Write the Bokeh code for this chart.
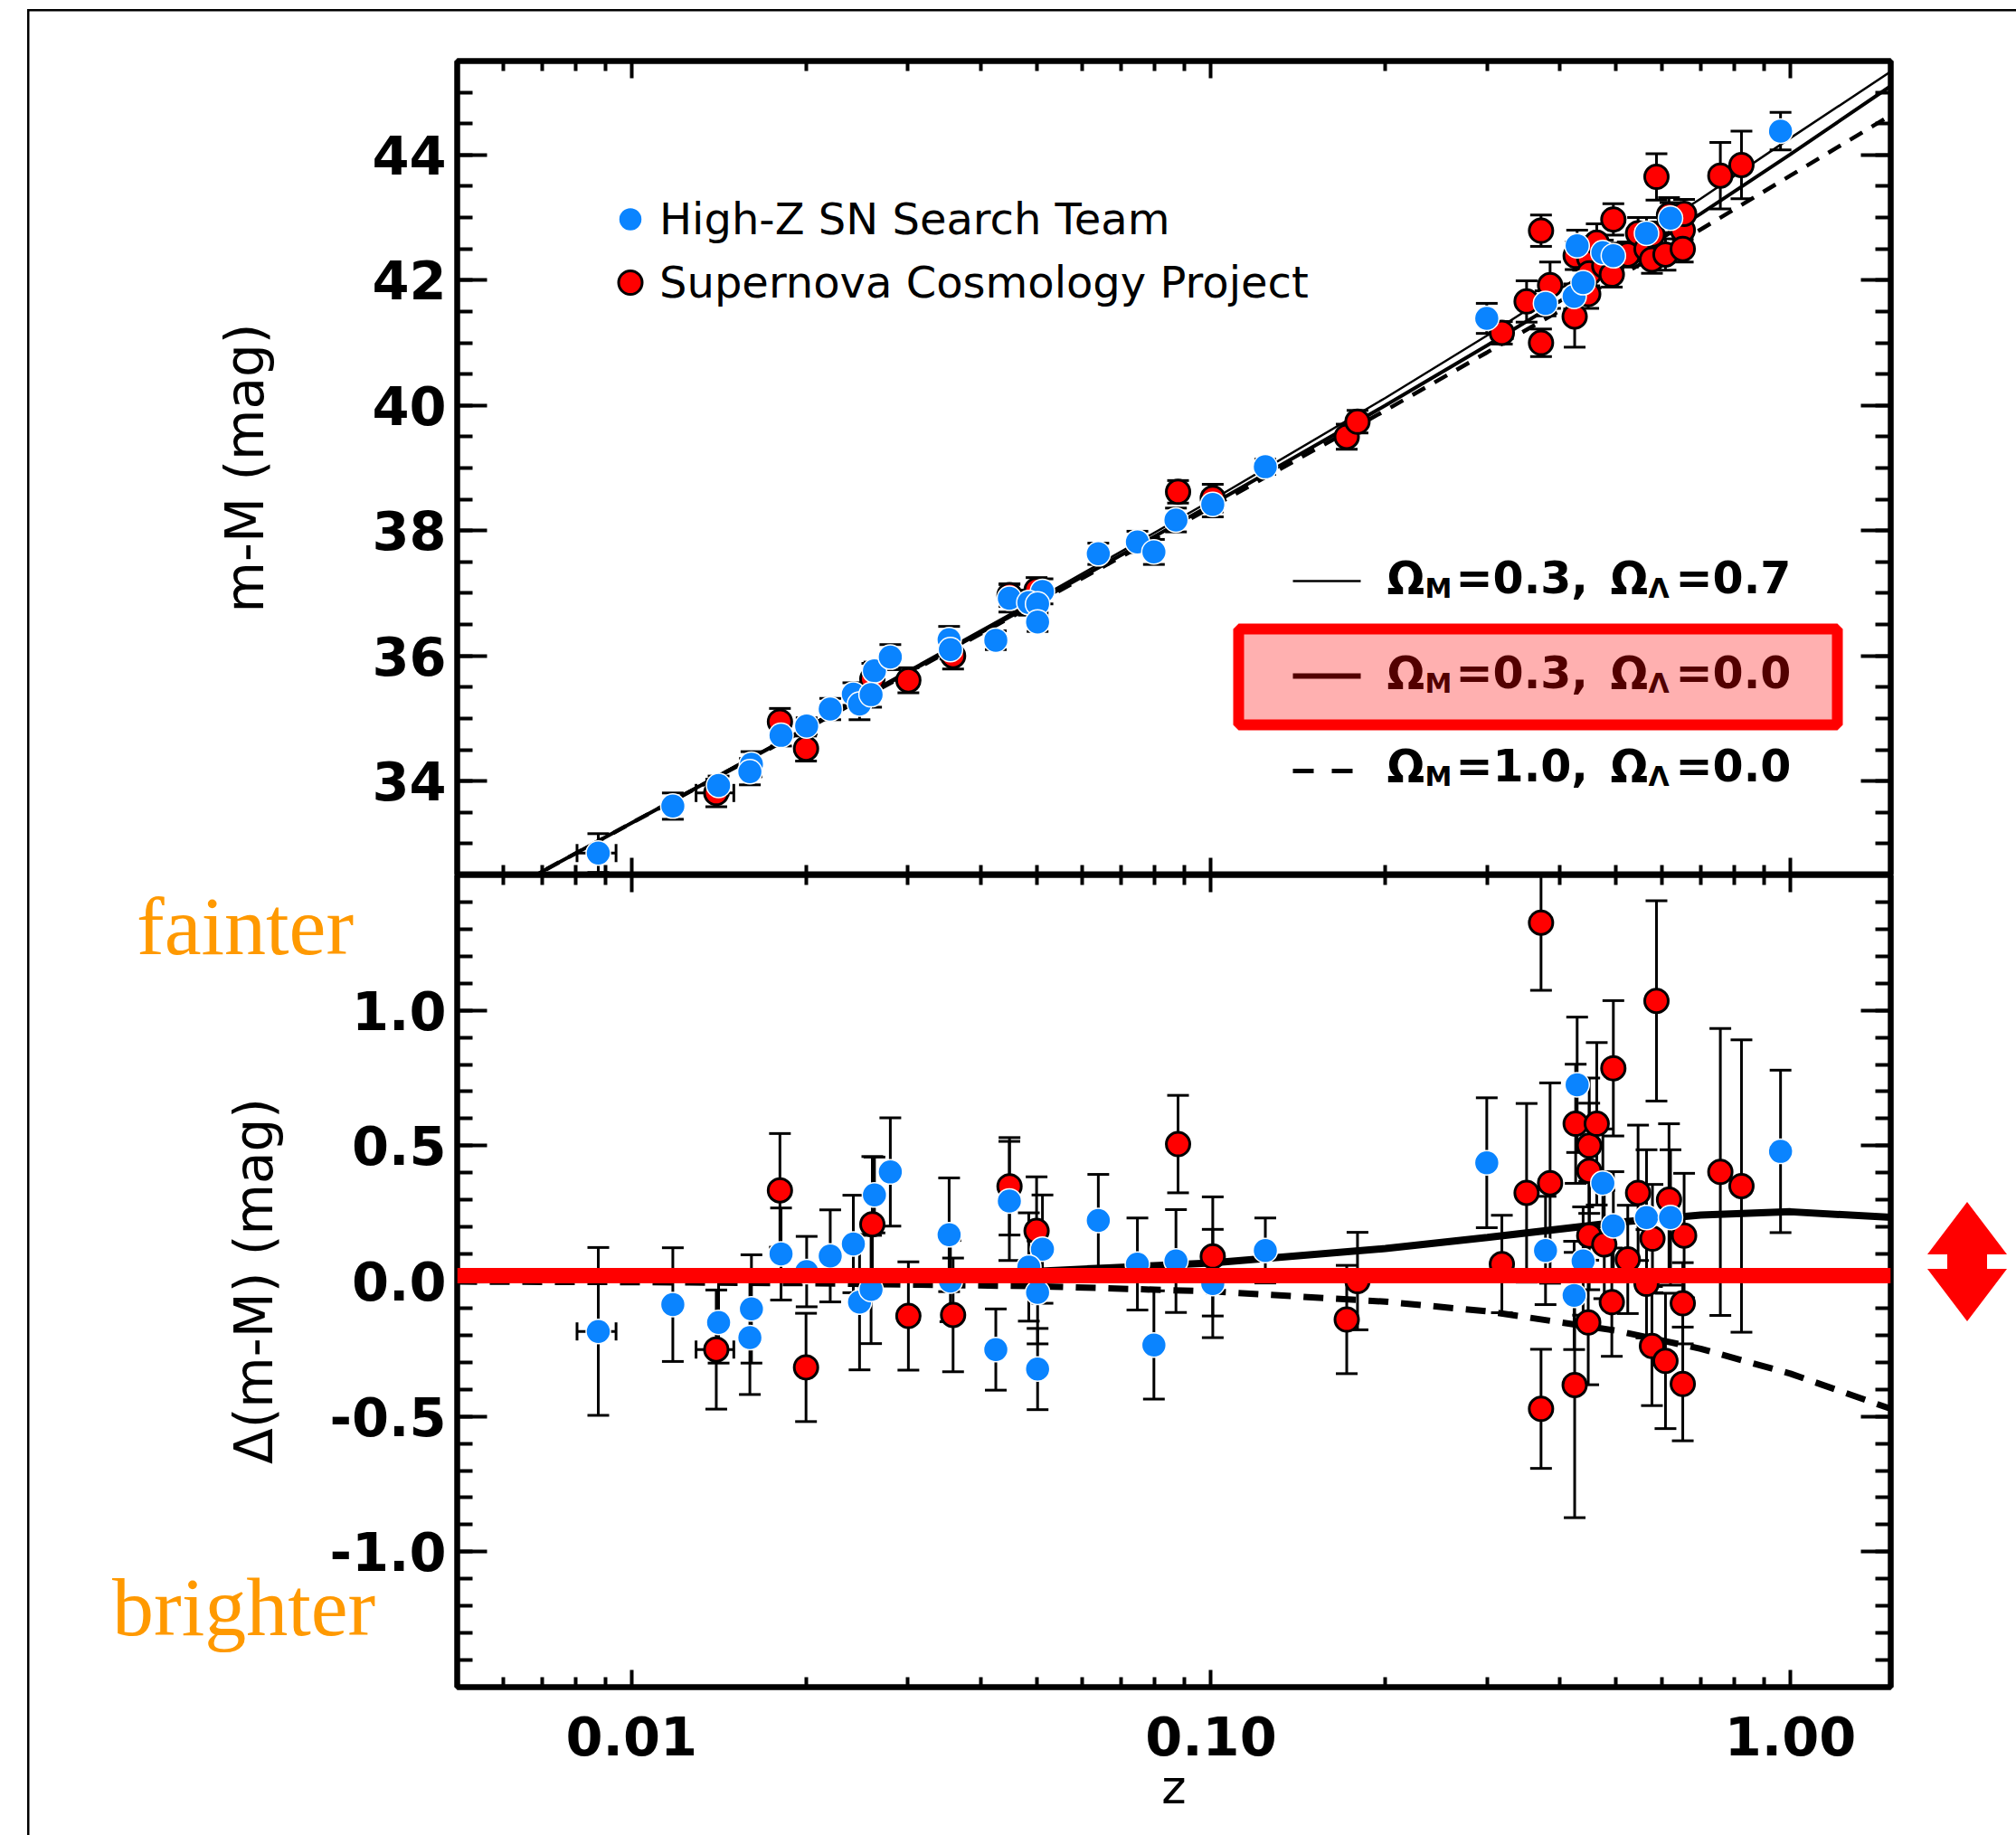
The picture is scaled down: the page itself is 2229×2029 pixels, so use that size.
import numpy as np
from bokeh.plotting import figure
from bokeh.layouts import column
from bokeh.models import (Range1d, FixedTicker, PrintfTickFormatter, LogAxis, LinearAxis,
                          Whisker, TeeHead, ColumnDataSource, Span, Label, Legend, LegendItem,
                          BoxAnnotation, Div)
from bokeh.embed import file_html
from bokeh.resources import INLINE

# ---------------- data ----------------
x_major_ticks = [0.01, 0.1, 1.0]
x_minor_ticks = [0.005, 0.006, 0.007, 0.008, 0.009, 0.02, 0.03, 0.04, 0.05, 0.06, 0.07, 0.08,
                 0.09, 0.2, 0.3, 0.4, 0.5, 0.6, 0.7, 0.8, 0.9]
top_y_ticks = [34, 36, 38, 40, 42, 44]
top_y_minor = [float(v) for v in np.arange(32.5, 45.51, 0.5)]
bot_y_ticks = [-1.0, -0.5, 0.0, 0.5, 1.0]
bot_y_minor = [float(v) for v in np.round(np.arange(-1.5, 1.51, 0.1), 2)]

# model curves
model_z = [0.005, 0.01, 0.02, 0.05, 0.1, 0.2, 0.3, 0.5, 0.7, 1.0, 1.5]
mu_lambda = [31.82, 33.34, 34.86, 36.90, 38.48, 40.12, 41.12, 42.43, 43.30, 44.27, 45.35]
mu_open = [31.82, 33.33, 34.84, 36.86, 38.41, 40.00, 40.96, 42.21, 43.06, 44.01, 45.12]
mu_eds = [31.82, 33.33, 34.83, 36.84, 38.37, 39.92, 40.85, 42.03, 42.81, 43.67, 44.65]
dmu_lambda = [0.004, 0.008, 0.015, 0.036, 0.067, 0.120, 0.161, 0.216, 0.244, 0.256, 0.235]
dmu_open = [0.0, 0.0, 0.0, 0.0, 0.0, 0.0, 0.0, 0.0, 0.0, 0.0, 0.0]
dmu_eds = [-0.002, -0.004, -0.008, -0.019, -0.038, -0.076, -0.112, -0.183, -0.250, -0.342, -0.474]

# High-Z SN Search Team
hz_z = [0.00876, 0.01178, 0.01413, 0.0161, 0.0160, 0.01811, 0.02005, 0.02202, 0.02414, 0.02474,
        0.02625, 0.02796, 0.0259, 0.03532, 0.0355, 0.04252, 0.04487, 0.05118, 0.04848, 0.0502,
        0.0502, 0.0639, 0.07464, 0.0797, 0.087, 0.1007, 0.1241, 0.2992, 0.3779, 0.4234,
        0.4285, 0.4388, 0.4746, 0.4948, 0.5645, 0.621, 0.9616]
hz_mu = [32.85, 33.60, 33.93, 34.27, 34.15, 34.73, 34.88, 35.15, 35.39, 35.23,
         35.76, 35.98, 35.38, 36.26, 36.10, 36.25, 36.92, 37.03, 36.85, 36.83,
         36.54, 37.63, 37.82, 37.66, 38.17, 38.42, 39.02, 41.39, 41.63, 41.74,
         42.55, 41.96, 42.44, 42.39, 42.75, 42.99, 44.38]
hz_dmu = [-0.186, -0.087, -0.153, -0.103, -0.209, 0.100, 0.035, 0.093, 0.137, -0.078,
          0.318, 0.403, -0.031, 0.171, 0.000, -0.253, 0.296, 0.118, 0.052, -0.042,
          -0.325, 0.224, 0.063, -0.236, 0.074, -0.009, 0.113, 0.437, 0.113, -0.053,
          0.725, 0.074, 0.362, 0.204, 0.235, 0.235, 0.479]
hz_err = [0.31, 0.21, 0.15, 0.20, 0.21, 0.17, 0.13, 0.17, 0.18, 0.25,
          0.14, 0.20, 0.20, 0.21, 0.15, 0.15, 0.22, 0.20, 0.20, 0.19,
          0.15, 0.17, 0.17, 0.20, 0.19, 0.20, 0.12, 0.24, 0.20, 0.20,
          0.25, 0.20, 0.20, 0.20, 0.25, 0.25, 0.30]
hz_xerr_lo = [0.00805]
hz_xerr_hi = [0.0094]
hz_xerr_mu = [32.85]
hz_xerr_dmu = [-0.186]

# Supernova Cosmology Project
scp_z = [0.0140, 0.01803, 0.0200, 0.02603, 0.03004, 0.03588, 0.0449, 0.0500, 0.08773, 0.1007,
         0.1715, 0.179, 0.3177, 0.3505, 0.3712, 0.3712, 0.3848, 0.4243, 0.4260, 0.4478,
         0.4496, 0.4496, 0.4496, 0.4632, 0.4773, 0.4918, 0.4948, 0.524, 0.5459, 0.5645,
         0.5768, 0.578, 0.5873, 0.6087, 0.6173, 0.652, 0.652, 0.6555, 0.757, 0.8233]
scp_mu = [33.81, 34.95, 34.52, 35.63, 35.61, 36.00, 36.97, 37.05, 38.62, 38.52,
          39.50, 39.74, 41.16, 41.66, 42.79, 41.00, 41.92, 41.42, 42.39, 41.78,
          42.44, 42.35, 42.11, 42.60, 42.23, 42.09, 42.97, 42.41, 42.75, 42.50,
          42.33, 42.73, 43.65, 42.41, 43.04, 42.80, 42.50, 43.06, 43.67, 43.84]
scp_dmu = [-0.253, 0.335, -0.319, 0.210, -0.129, -0.125, 0.350, 0.185, 0.506, 0.091,
           -0.142, 0.000, 0.063, 0.326, 1.324, -0.472, 0.362, -0.384, 0.581, -0.153,
           0.500, 0.407, 0.168, 0.581, 0.135, -0.078, 0.786, 0.080, 0.326, -0.010,
           -0.240, 0.157, 1.035, -0.295, 0.301, -0.082, -0.380, 0.168, 0.403, 0.351]
scp_err = [0.22, 0.21, 0.20, 0.25, 0.20, 0.21, 0.18, 0.20, 0.18, 0.22,
           0.20, 0.18, 0.18, 0.33, 0.25, 0.22, 0.37, 0.49, 0.22, 0.23,
           0.25, 0.25, 0.20, 0.30, 0.20, 0.20, 0.25, 0.20, 0.25, 0.20,
           0.22, 0.20, 0.37, 0.25, 0.28, 0.15, 0.21, 0.23, 0.53, 0.54]
scp_xerr_lo = [0.01292]
scp_xerr_hi = [0.01501]
scp_xerr_mu = [33.81]
scp_xerr_dmu = [-0.253]

legend_labels = ["High-Z SN Search Team", "Supernova Cosmology Project"]
model_rows = [["\u03a9", "M", "=0.3,", "\u03a9", "\u039b", "=0.7"],
              ["\u03a9", "M", "=0.3,", "\u03a9", "\u039b", "=0.0"],
              ["\u03a9", "M", "=1.0,", "\u03a9", "\u039b", "=0.0"]]
side_notes = ["fainter", "brighter"]

# ---------------- layout / style ----------------
BLUE = "#0A84FF"
RED = "#FF0000"
FONT = "DejaVu Sans"
FRAME_L, FRAME_W = 505, 1585
TOP_T, TOP_H = 67, 900
BOT_T, BOT_H = 967, 898
Z0, Z1 = 0.005, 1.49
TOP_Y = (32.5, 45.5)
BOT_Y = (-1.5, 1.5)


def px_to_z(px):
    l0, l1 = np.log10(Z0), np.log10(Z1)
    return float(10 ** (l0 + (px - FRAME_L) / FRAME_W * (l1 - l0)))


def py_top(py):
    return float(TOP_Y[1] - (py - TOP_T) / TOP_H * (TOP_Y[1] - TOP_Y[0]))


def base_fig(yr, fh, mbt, mbb):
    p = figure(x_axis_type="log", x_range=Range1d(Z0, Z1), y_range=Range1d(*yr),
               frame_width=FRAME_W, frame_height=fh,
               min_border_left=FRAME_L, min_border_right=138,
               min_border_top=mbt, min_border_bottom=mbb,
               toolbar_location=None, tools="", output_backend="svg")
    p.grid.visible = False
    p.outline_line_color = "black"
    p.outline_line_width = 6
    p.background_fill_color = "white"
    p.border_fill_color = None
    return p


def style_axis(ax, ticker, major_len, minor_len, formatter=None, show_labels=False):
    ax.ticker = ticker
    if formatter is not None:
        ax.formatter = formatter
    ax.axis_line_color = "black"
    ax.axis_line_width = 6
    ax.major_tick_line_color = "black"
    ax.major_tick_line_width = 4
    ax.minor_tick_line_color = "black"
    ax.minor_tick_line_width = 4
    ax.major_tick_in = major_len
    ax.major_tick_out = 0
    ax.minor_tick_in = minor_len
    ax.minor_tick_out = 0
    ax.major_label_text_font = FONT
    ax.major_label_text_font_style = "bold"
    ax.major_label_text_color = "black"
    ax.axis_label_text_color = "black"
    if show_labels:
        ax.major_label_text_font_size = "59px"
    else:
        ax.major_label_text_font_size = "1px"
        ax.major_label_text_alpha = 0
        ax.major_label_standoff = 0


def xticker():
    return FixedTicker(ticks=x_major_ticks, minor_ticks=x_minor_ticks)


def add_errors(p, z, y, err):
    src = ColumnDataSource(dict(z=z, y=y, lo=[a - b for a, b in zip(y, err)],
                                hi=[a + b for a, b in zip(y, err)]))
    p.add_layout(Whisker(source=src, base="z", lower="lo", upper="hi", dimension="height",
                         line_color="black", line_width=3,
                         upper_head=TeeHead(size=24, line_width=3, line_color="black"),
                         lower_head=TeeHead(size=24, line_width=3, line_color="black")))
    return src


def add_xerrors(p, y, lo, hi):
    src = ColumnDataSource(dict(y=y, lo=lo, hi=hi))
    p.add_layout(Whisker(source=src, base="y", lower="lo", upper="hi", dimension="width",
                         line_color="black", line_width=3,
                         upper_head=TeeHead(size=20, line_width=3, line_color="black"),
                         lower_head=TeeHead(size=20, line_width=3, line_color="black")))


# ================= top panel =================
p1 = base_fig(TOP_Y, TOP_H, TOP_T, 0)
style_axis(p1.xaxis[0], xticker(), 19, 11)
style_axis(p1.yaxis[0], FixedTicker(ticks=top_y_ticks, minor_ticks=top_y_minor), 33, 17,
           PrintfTickFormatter(format="%d"), show_labels=True)
p1.yaxis[0].major_label_standoff = 12
p1.yaxis[0].axis_label = "m-M (mag)"
p1.yaxis[0].axis_label_text_font = FONT
p1.yaxis[0].axis_label_text_font_size = "58px"
p1.yaxis[0].axis_label_text_font_style = "normal"
p1.yaxis[0].axis_label_standoff = 103
ax = LogAxis()
style_axis(ax, xticker(), 19, 11)
p1.add_layout(ax, "above")
ax = LinearAxis()
style_axis(ax, FixedTicker(ticks=top_y_ticks, minor_ticks=top_y_minor), 33, 17)
p1.add_layout(ax, "right")

p1.line(model_z, mu_open, line_color="black", line_width=4)
p1.line(model_z, mu_lambda, line_color="black", line_width=2.5)
p1.line(model_z, mu_eds, line_color="black", line_width=4.5, line_dash="16 12")

src_scp1 = add_errors(p1, scp_z, scp_mu, scp_err)
src_hz1 = add_errors(p1, hz_z, hz_mu, hz_err)
add_xerrors(p1, hz_xerr_mu, hz_xerr_lo, hz_xerr_hi)
add_xerrors(p1, scp_xerr_mu, scp_xerr_lo, scp_xerr_hi)
r_scp = p1.scatter("z", "y", source=src_scp1, size=26, fill_color=RED, line_color="black",
                   line_width=3)
r_hz = p1.scatter("z", "y", source=src_hz1, size=27, fill_color=BLUE, line_color="white",
                  line_width=1.5)

legend = Legend(items=[LegendItem(label=legend_labels[0], renderers=[r_hz]),
                       LegendItem(label=legend_labels[1], renderers=[r_scp])],
                location=(159, 620), orientation="vertical", glyph_width=65, glyph_height=70,
                label_height=70, spacing=0, padding=0, margin=0, label_standoff=0,
                label_text_font=FONT, label_text_font_size="48px", label_text_color="black",
                border_line_color=None, background_fill_alpha=0)
p1.add_layout(legend)

# highlighted model legend box
p1.add_layout(BoxAnnotation(left=px_to_z(1369), right=px_to_z(2031),
                            top=py_top(695), bottom=py_top(801),
                            fill_color="#FFB0B0", fill_alpha=1,
                            line_color=RED, line_alpha=1, line_width=12))

row_baselines = [639, 744, 847]
row_line_y = [642, 747, 852]
row_colors = ["black", "#520000", "black"]
row_line_w = [2.5, 6, 5]
row_line_dash = ["solid", "solid", "23 20"]
piece_left = [1533, 1575, 1609, 1780, 1822, 1852]
for texts, base, ly, col, lw, ld in zip(model_rows, row_baselines, row_line_y, row_colors,
                                        row_line_w, row_line_dash):
    p1.line([px_to_z(1429), px_to_z(1504)], [py_top(ly), py_top(ly)], line_color=col,
            line_width=lw, line_dash=ld, level="overlay")
    for i, (t, lx) in enumerate(zip(texts, piece_left)):
        sub = i in (1, 4)
        p1.add_layout(Label(x=px_to_z(lx), y=py_top(base + (11 if sub else 0)), text=t,
                            text_align="left", text_baseline="alphabetic",
                            text_font=FONT, text_font_style="bold",
                            text_font_size="30px" if sub else "49px", text_color=col))

# ================= bottom panel =================
p2 = base_fig(BOT_Y, BOT_H, 0, 160)
style_axis(p2.xaxis[0], xticker(), 19, 11, PrintfTickFormatter(format="%.2f"),
           show_labels=True)
p2.xaxis[0].major_label_standoff = 32
p2.xaxis[0].axis_label = "z"
p2.xaxis[0].axis_label_text_font = FONT
p2.xaxis[0].axis_label_text_font_size = "52px"
p2.xaxis[0].axis_label_text_font_style = "normal"
p2.xaxis[0].axis_label_standoff = 2
style_axis(p2.yaxis[0], FixedTicker(ticks=bot_y_ticks, minor_ticks=bot_y_minor), 33, 17,
           PrintfTickFormatter(format="%.1f"), show_labels=True)
p2.yaxis[0].major_label_standoff = 12
p2.yaxis[0].axis_label = "\u0394(m-M) (mag)"
p2.yaxis[0].axis_label_text_font = FONT
p2.yaxis[0].axis_label_text_font_size = "58px"
p2.yaxis[0].axis_label_text_font_style = "normal"
p2.yaxis[0].axis_label_standoff = 46
ax = LogAxis()
style_axis(ax, xticker(), 19, 11)
p2.add_layout(ax, "above")
ax = LinearAxis()
style_axis(ax, FixedTicker(ticks=bot_y_ticks, minor_ticks=bot_y_minor), 33, 17)
p2.add_layout(ax, "right")

p2.line(model_z, dmu_open, line_color="black", line_width=4)
p2.line(model_z, dmu_lambda, line_color="black", line_width=8)
p2.line(model_z, dmu_eds, line_color="black", line_width=7, line_dash="22 14")

src_scp2 = add_errors(p2, scp_z, scp_dmu, scp_err)
src_hz2 = add_errors(p2, hz_z, hz_dmu, hz_err)
add_xerrors(p2, hz_xerr_dmu, hz_xerr_lo, hz_xerr_hi)
add_xerrors(p2, scp_xerr_dmu, scp_xerr_lo, scp_xerr_hi)
p2.scatter("z", "y", source=src_scp2, size=26, fill_color=RED, line_color="black", line_width=3)
p2.scatter("z", "y", source=src_hz2, size=27, fill_color=BLUE, line_color="white",
           line_width=1.5)

p2.add_layout(Span(location=0.02, dimension="width", line_color=RED, line_width=17))

# ---------------- decorations outside the plot frames (HTML overlays) ----------------
frame_svg = ('<svg xmlns="http://www.w3.org/2000/svg" width="2199" height="2019" '
             'style="display:block">'
             '<line x1="1.25" y1="0" x2="1.25" y2="2019" stroke="black" stroke-width="2.5"/>'
             '<line x1="0" y1="1.25" x2="2199" y2="1.25" stroke="black" stroke-width="2.5"/>'
             '</svg>')
frame_div = Div(text=frame_svg, width=2199, height=2019,
                styles={"position": "absolute", "left": "30px", "top": "10px",
                        "pointer-events": "none", "margin": "0", "padding": "0"})


def note_div(text, left, top):
    return Div(text=text, width=320, height=110,
               styles={"position": "absolute", "left": f"{left}px", "top": f"{top}px",
                       "font-family": "Liberation Serif", "font-size": "92px",
                       "line-height": "92px", "color": "#FF9900", "margin": "0",
                       "padding": "0", "white-space": "nowrap"})


fainter_div = note_div(side_notes[0], 151, 978)
brighter_div = note_div(side_notes[1], 124, 1731)

arrow_svg = ('<svg xmlns="http://www.w3.org/2000/svg" width="88" height="133" '
             'style="display:block">'
             '<polygon points="44,0 88,58 66,58 66,74 88,74 44,132 0,74 22,74 22,58 0,58" '
             'fill="#FF0000"/></svg>')
arrow_div = Div(text=arrow_svg, width=88, height=133,
                styles={"position": "absolute", "left": "2131px", "top": "1329px",
                        "margin": "0", "padding": "0"})

layout = column(p1, p2, frame_div, fainter_div, brighter_div, arrow_div)
open("out.html", "w").write(file_html(layout, INLINE, title="Hubble diagram"))
